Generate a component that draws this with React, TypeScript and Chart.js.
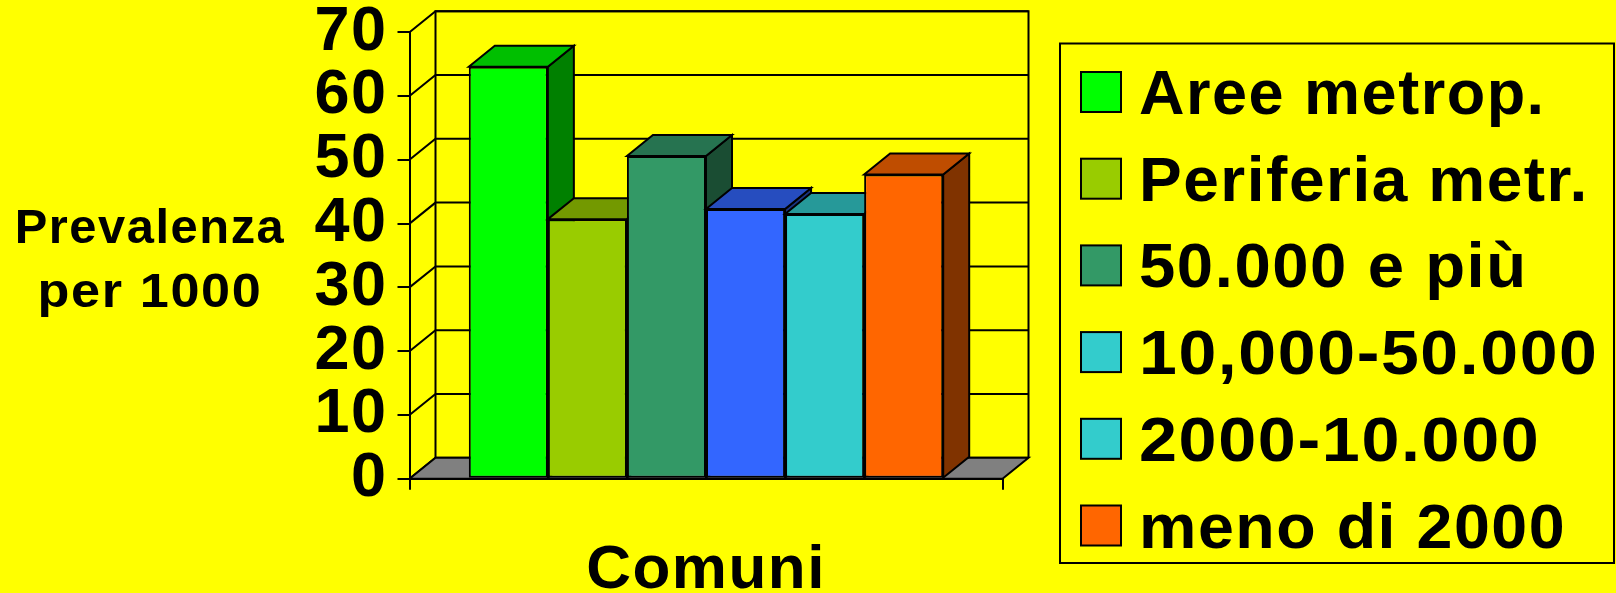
import React, { useEffect, useRef } from "react";
import { Chart, registerables } from "chart.js";

Chart.register(...registerables);

const categories = [""];
const seriesNames = ["Aree metrop.", "Periferia metr.", "50.000 e più", "10,000-50.000", "2000-10.000", "meno di 2000"];
const seriesValues = [64.6, 40.7, 50.6, 42.3, 41.5, 47.7];
const frontColors = ["#00FF00", "#99CC00", "#339966", "#3366FF", "#33CCCC", "#FF6600"];
const topColors = ["#00BF00", "#739900", "#267350", "#264DBF", "#269999", "#BF4D00"];
const sideColors = ["#008000", "#4D6600", "#1A4D33", "#1A3380", "#1A6666", "#803300"];
const legendColors = ["#00FF00", "#99CC00", "#339966", "#33CCCC", "#33CCCC", "#FF6600"];
const legendStretch = [1, 1.016, 1.036, 1.079, 1.084, 1.024];
const yTitleLines = ["Prevalenza", "per 1000"];
const yTitleStretch = [1.018, 1.087];
const xTitle = "Comuni";
const yMax = 70;
const yStep = 10;

const FONT = '"Liberation Sans", Arial, sans-serif';
const DX = 26;
const DY = 21;

const poly = (ctx: CanvasRenderingContext2D, pts: number[][], fill: string | null) => {
  ctx.beginPath();
  pts.forEach((p, i) => (i ? ctx.lineTo(p[0], p[1]) : ctx.moveTo(p[0], p[1])));
  ctx.closePath();
  if (fill) {
    ctx.fillStyle = fill;
    ctx.fill();
  }
  ctx.stroke();
};

const stretchedText = (ctx: CanvasRenderingContext2D, text: string, x: number, y: number, sx: number) => {
  ctx.save();
  ctx.translate(x, y);
  ctx.scale(sx, 1);
  ctx.fillText(text, 0, 0);
  ctx.restore();
};

const threeD = {
  id: "threeD",
  beforeDraw(chart: any) {
    const ctx: CanvasRenderingContext2D = chart.ctx;
    (ctx as any).letterSpacing = "1.5px";
    const { left, right, top, bottom } = chart.chartArea;
    const y = chart.scales.y;
    ctx.save();
    ctx.strokeStyle = "#000";
    ctx.lineWidth = 2;
    ctx.lineJoin = "miter";
    y.ticks.forEach((t: any) => {
      const py = y.getPixelForValue(t.value);
      ctx.beginPath();
      ctx.moveTo(left, py);
      ctx.lineTo(left + DX, py - DY);
      ctx.lineTo(right + DX, py - DY);
      ctx.stroke();
    });
    poly(ctx, [[left, bottom], [left + DX, bottom - DY], [right + DX, bottom - DY], [right, bottom]], "#808080");
    ctx.beginPath();
    ctx.moveTo(left + DX, bottom - DY);
    ctx.lineTo(left + DX, top - DY);
    ctx.lineTo(right + DX, top - DY);
    ctx.lineTo(right + DX, bottom - DY);
    ctx.stroke();
    ctx.restore();
  },
  beforeDatasetDraw() {
    return false;
  },
  afterDatasetsDraw(chart: any) {
    const ctx: CanvasRenderingContext2D = chart.ctx;
    ctx.save();
    ctx.strokeStyle = "#000";
    ctx.lineWidth = 2;
    ctx.lineJoin = "miter";
    chart.data.datasets.forEach((_: any, i: number) => {
      const bar = chart.getDatasetMeta(i).data[0];
      const { x, y, width, base } = bar.getProps(["x", "y", "width", "base"], true);
      const l = x - width / 2;
      const r = x + width / 2;
      poly(ctx, [[r, y], [r + DX, y - DY], [r + DX, base - DY], [r, base]], sideColors[i]);
      poly(ctx, [[l, y], [l + DX, y - DY], [r + DX, y - DY], [r, y]], topColors[i]);
      bar.draw(ctx, chart.chartArea);
    });
    ctx.restore();
  },
  afterDraw(chart: any) {
    const ctx: CanvasRenderingContext2D = chart.ctx;
    ctx.save();
    ctx.fillStyle = "#000";
    ctx.textBaseline = "alphabetic";
    (ctx as any).letterSpacing = "1.5px";

    // y title
    ctx.textAlign = "center";
    ctx.font = `bold 48px ${FONT}`;
    yTitleLines.forEach((line, i) => {
      stretchedText(ctx, line, 150, 242.7 + 64 * i, yTitleStretch[i]);
    });

    // legend
    ctx.strokeStyle = "#000";
    ctx.lineWidth = 2;
    ctx.strokeRect(1060, 43.5, 554, 519.5);
    ctx.textAlign = "left";
    ctx.font = `bold 63px ${FONT}`;
    seriesNames.forEach((name, i) => {
      const rowY = 86.7 * i;
      ctx.fillStyle = legendColors[i];
      ctx.fillRect(1081, 72 + rowY, 40, 40);
      ctx.strokeRect(1081, 72 + rowY, 40, 40);
      ctx.fillStyle = "#000";
      stretchedText(ctx, name, 1139, 114 + rowY, legendStretch[i]);
    });
    ctx.restore();
  },
};

export default function App() {
  const ref = useRef<HTMLCanvasElement>(null);
  useEffect(() => {
    document.body.style.margin = "0";
    document.body.style.background = "#FFFF00";
    const chart = new Chart(ref.current!, {
      type: "bar",
      data: {
        labels: categories,
        datasets: seriesNames.map((name, i) => ({
          label: name,
          data: [seriesValues[i]],
          backgroundColor: frontColors[i],
          borderColor: "#000",
          borderWidth: 2,
          borderSkipped: false,
          categoryPercentage: 0.8,
          barPercentage: 1,
        })),
      },
      options: {
        responsive: false,
        animation: false,
        devicePixelRatio: 1,
        layout: { padding: { left: 0, right: 613.5, top: 32.3, bottom: 0 } },
        plugins: { legend: { display: false }, tooltip: { enabled: false }, title: { display: false } },
        scales: {
          x: {
            afterFit: (s: any) => {
              s.height = 114.3;
              s.paddingLeft = 0;
              s.paddingRight = 0;
            },
            grid: { offset: true, drawOnChartArea: false, drawTicks: true, tickLength: 11, color: "#000", lineWidth: 2 },
            border: { display: true, color: "#000", width: 2 },
            ticks: { display: false },
            title: {
              display: true,
              text: xTitle,
              color: "#000",
              font: { family: FONT, weight: "bold", size: 62 },
              padding: { top: 0, bottom: -15.5 },
            },
          },
          y: {
            min: 0,
            max: yMax,
            afterFit: (s: any) => {
              s.width = 409.5;
              s.paddingTop = 0;
              s.paddingBottom = 0;
            },
            grid: { drawOnChartArea: false, drawTicks: true, tickLength: 12, color: "#000", lineWidth: 2 },
            border: { display: true, color: "#000", width: 2 },
            ticks: {
              stepSize: yStep,
              autoSkip: false,
              color: "#000",
              padding: 10,
              font: { family: FONT, weight: "bold", size: 63 },
            },
          },
        },
      },
      plugins: [threeD],
    } as any);
    return () => chart.destroy();
  }, []);
  return (
    <div style={{ width: 1616, height: 593, background: "#FFFF00", position: "absolute", left: 0, top: 0, overflow: "hidden" }}>
      <canvas ref={ref} width={1616} height={593} style={{ display: "block" }} />
    </div>
  );
}
